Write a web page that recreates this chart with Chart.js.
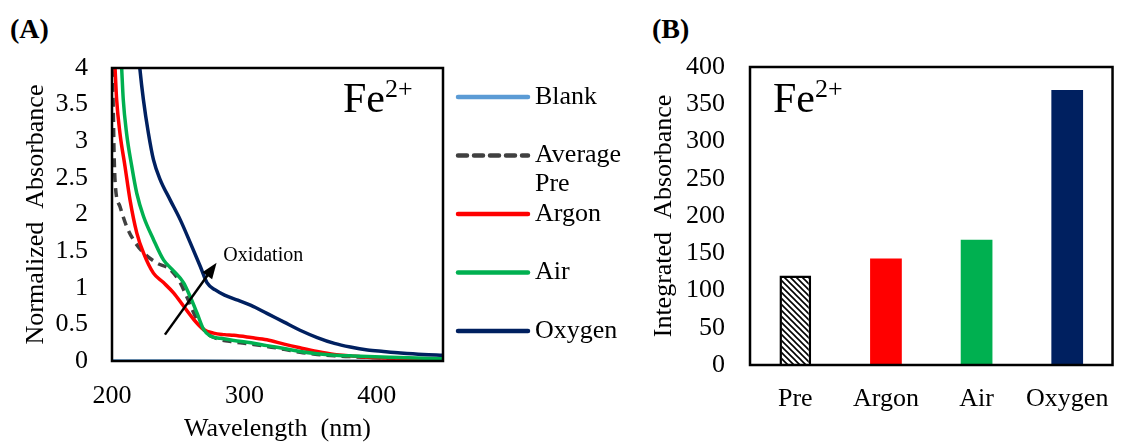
<!DOCTYPE html>
<html>
<head>
<meta charset="utf-8">
<script src="https://cdn.jsdelivr.net/npm/chart.js@4.4.0/dist/chart.umd.min.js"></script>
<style>
body { margin: 0; background: #fff; width: 1129px; height: 445px; overflow: hidden; position: relative; font-family: 'Liberation Serif', 'Times New Roman', serif; }
#chartA { position: absolute; left: 0; top: 0; }
#chartB { position: absolute; left: 645px; top: 0; }
.panel { position: absolute; top: 13px; font-weight: bold; font-size: 28px; line-height: normal; }
</style>
</head>
<body>
<div class="panel" style="left:10px">(A)</div>
<div class="panel" style="left:652px">(B)</div>
<canvas id="chartA" width="645" height="445"></canvas>
<canvas id="chartB" width="484" height="445"></canvas>
<script>
///// SPECTRA + INTEGRATED ABSORBANCE /////

Chart.defaults.font.family = "'Liberation Serif', 'Times New Roman', serif";
Chart.defaults.font.size = 26;
Chart.defaults.color = '#000';

// Spectra (wavelength in nm, normalized absorbance)
const blankX = [200, 250, 300, 350, 400, 450];
const blankY = [0.01, 0.01, 0.005, 0.005, 0.005, 0.005];

const avgPreX = [200, 200.5, 201, 201.5, 202.5, 206, 211, 216, 223.7, 233.7, 243.9, 251.5, 256.4, 264.1, 271.7, 280, 292, 305, 317, 330, 342, 355, 368, 380, 393, 410, 430, 450];
const avgPreY = [4.0, 3.8, 3.4, 2.88, 2.4, 2.11, 1.84, 1.66, 1.48, 1.34, 1.25, 1.07, 0.88, 0.57, 0.38, 0.3, 0.26, 0.23, 0.2, 0.16, 0.12, 0.09, 0.07, 0.06, 0.05, 0.04, 0.03, 0.02];

const argonX = [201.5, 202.3, 203.5, 206, 209.8, 213.6, 218.7, 223.7, 231.3, 238.9, 246.5, 254, 261.6, 269.2, 276.7, 285, 292, 305, 317, 330, 342, 355, 368, 380, 393, 410, 430, 450];
const argonY = [4.3, 4.0, 3.57, 3.11, 2.66, 2.2, 1.75, 1.48, 1.2, 1.07, 0.93, 0.75, 0.57, 0.43, 0.38, 0.36, 0.35, 0.32, 0.29, 0.23, 0.18, 0.13, 0.09, 0.07, 0.05, 0.04, 0.03, 0.02];

const airX = [206.5, 207.3, 208.5, 211, 214.9, 218.7, 223.7, 231.3, 238.9, 246.5, 254, 259, 264.1, 269.2, 274.2, 282, 292, 305, 317, 330, 342, 355, 368, 380, 393, 410, 430, 450];
const airY = [4.3, 4.0, 3.57, 3.11, 2.66, 2.29, 1.98, 1.66, 1.38, 1.23, 1.07, 0.88, 0.66, 0.43, 0.34, 0.31, 0.28, 0.25, 0.21, 0.17, 0.13, 0.1, 0.08, 0.07, 0.06, 0.05, 0.04, 0.03];

const oxygenX = [219.5, 221, 223.7, 227.5, 231.3, 236.3, 243.9, 251.5, 259, 266.7, 271.7, 278, 285, 295, 305, 317, 330, 342, 355, 368, 380, 393, 405, 418, 435, 450];
const oxygenY = [4.3, 4.0, 3.57, 3.11, 2.75, 2.48, 2.2, 1.93, 1.62, 1.29, 1.07, 0.97, 0.9, 0.83, 0.76, 0.65, 0.53, 0.42, 0.32, 0.24, 0.19, 0.15, 0.13, 0.11, 0.09, 0.08];

// Oxidation arrow, in data units
const arrowFrom = { x: 240, y: 0.36 };
const arrowTo = { x: 279, y: 1.34 };
const arrowLabel = { x: 284, y: 1.37, text: 'Oxidation' };

// Integrated absorbance bars
const barLabels = ['Pre', 'Argon', 'Air', 'Oxygen'];
const barValues = [120, 143, 168, 369];

function pts(xs, ys) {
    return xs.map((x, i) => ({ x: x, y: ys[i] }));
}

function drawFe(ctx, x, y) {
    ctx.save();
    ctx.fillStyle = '#000';
    ctx.textBaseline = 'alphabetic';
    ctx.textAlign = 'left';
    ctx.font = "42px 'Liberation Serif'";
    ctx.fillText('Fe', x, y);
    const w = ctx.measureText('Fe').width;
    ctx.font = "26px 'Liberation Serif'";
    ctx.fillText('2+', x + w, y - 15);
    ctx.restore();
}

// box round the plot area + Fe label
const frame = {
    id: 'frame',
    afterDatasetsDraw(chart, args, opts) {
        const { ctx, chartArea: a } = chart;
        ctx.save();
        ctx.strokeStyle = '#000';
        ctx.lineWidth = 2.5;
        ctx.strokeRect(a.left, a.top, a.right - a.left, a.bottom - a.top);
        ctx.restore();
        if (opts.fe === 'right') drawFe(ctx, a.right - 100, a.top + 44);
        if (opts.fe === 'left') drawFe(ctx, a.left + 23, a.top + 45);
    }
};

// arrow + legend for the spectra
const extras = {
    id: 'extras',
    afterDraw(chart) {
        const { ctx, chartArea: a, scales } = chart;
        const x0 = scales.x.getPixelForValue(arrowFrom.x), y0 = scales.y.getPixelForValue(arrowFrom.y);
        const x1 = scales.x.getPixelForValue(arrowTo.x), y1 = scales.y.getPixelForValue(arrowTo.y);
        const ang = Math.atan2(y1 - y0, x1 - x0);
        ctx.save();
        ctx.strokeStyle = '#000';
        ctx.fillStyle = '#000';
        ctx.lineWidth = 2.5;
        ctx.beginPath();
        ctx.moveTo(x0, y0);
        ctx.lineTo(x1 - 12 * Math.cos(ang), y1 - 12 * Math.sin(ang));
        ctx.stroke();
        ctx.beginPath();
        ctx.moveTo(x1, y1);
        ctx.lineTo(x1 - 16 * Math.cos(ang) + 6 * Math.sin(ang), y1 - 16 * Math.sin(ang) - 6 * Math.cos(ang));
        ctx.lineTo(x1 - 16 * Math.cos(ang) - 6 * Math.sin(ang), y1 - 16 * Math.sin(ang) + 6 * Math.cos(ang));
        ctx.closePath();
        ctx.fill();
        ctx.font = "20px 'Liberation Serif'";
        ctx.textBaseline = 'alphabetic';
        ctx.fillText(arrowLabel.text, scales.x.getPixelForValue(arrowLabel.x), scales.y.getPixelForValue(arrowLabel.y));

        // legend
        const lx = a.right + 15;
        ctx.font = "26px 'Liberation Serif'";
        ctx.textBaseline = 'middle';
        chart.data.datasets.forEach((ds, i) => {
            const ly = a.top + 29 + i * 58.5;
            ctx.beginPath();
            ctx.strokeStyle = ds.borderColor;
            ctx.lineWidth = 4.5;
            ctx.lineCap = 'round';
            ctx.setLineDash(ds.borderDash ? [9, 7] : []);
            ctx.moveTo(lx, ly);
            ctx.lineTo(lx + 70, ly);
            ctx.stroke();
            ctx.setLineDash([]);
            ctx.fillStyle = '#000';
            const lines = Array.isArray(ds.label) ? ds.label : [ds.label];
            lines.forEach((t, j) => ctx.fillText(t, lx + 77, ly + j * 29));
        });
        ctx.restore();
    }
};

const lineStyle = { borderWidth: 3.5, pointRadius: 0, cubicInterpolationMode: 'monotone', clip: 0 };
const plainNum = (v) => String(Number(v));

const chartA = new Chart(document.getElementById('chartA'), {
    type: 'line',
    data: {
        datasets: [
            { ...lineStyle, label: 'Blank', data: pts(blankX, blankY), borderColor: '#5B9BD5', borderWidth: 2, order: 5 },
            { ...lineStyle, label: ['Average', 'Pre'], data: pts(avgPreX, avgPreY), borderColor: '#404040', borderDash: [9, 6], order: 4 },
            { ...lineStyle, label: 'Argon', data: pts(argonX, argonY), borderColor: '#FF0000', order: 3 },
            { ...lineStyle, label: 'Air', data: pts(airX, airY), borderColor: '#00B050', order: 2 },
            { ...lineStyle, label: 'Oxygen', data: pts(oxygenX, oxygenY), borderColor: '#002060', order: 1 }
        ]
    },
    options: {
        responsive: false,
        animation: false,
        layout: { padding: { top: 68, right: 202, left: 0, bottom: 0 } },
        plugins: { legend: { display: false }, tooltip: { enabled: false }, frame: { fe: 'right' } },
        scales: {
            x: {
                type: 'linear', min: 200, max: 450,
                ticks: { stepSize: 100, includeBounds: false, padding: 20, maxRotation: 0, callback: plainNum },
                grid: { display: false, drawTicks: false },
                border: { display: false },
                title: { display: true, text: 'Wavelength  (nm)', padding: { top: 0, bottom: 0 } },
                afterFit: (s) => { s.height = 84; }
            },
            y: {
                min: 0, max: 4,
                ticks: { stepSize: 0.5, padding: 24, callback: plainNum },
                grid: { display: false, drawTicks: false },
                border: { display: false },
                title: { display: true, text: 'Normalized  Absorbance', padding: { top: 21, bottom: 0 } },
                afterFit: (s) => { s.width = 112; }
            }
        }
    },
    plugins: [frame, extras]
});

// hatched fill for the Pre bar
function hatch() {
    const c = document.createElement('canvas');
    c.width = 6; c.height = 6;
    const g = c.getContext('2d');
    g.fillStyle = '#fff';
    g.fillRect(0, 0, 6, 6);
    g.strokeStyle = '#000';
    g.lineWidth = 1.6;
    g.beginPath();
    g.moveTo(-1, -1); g.lineTo(7, 7);
    g.moveTo(-4, 2); g.lineTo(1, 7);
    g.moveTo(5, -1); g.lineTo(8, 2);
    g.stroke();
    return document.getElementById('chartB').getContext('2d').createPattern(c, 'repeat');
}

const chartB = new Chart(document.getElementById('chartB'), {
    type: 'bar',
    data: {
        labels: barLabels,
        datasets: [{
            data: barValues,
            backgroundColor: [hatch(), '#FF0000', '#00B050', '#002060'],
            borderColor: '#000',
            borderWidth: [2.5, 0, 0, 0],
            categoryPercentage: 1,
            barPercentage: 0.35
        }]
    },
    options: {
        responsive: false,
        animation: false,
        layout: { padding: { top: 67, right: 13, left: 0, bottom: 0 } },
        plugins: { legend: { display: false }, tooltip: { enabled: false }, frame: { fe: 'left' } },
        scales: {
            x: {
                ticks: { padding: 19, maxRotation: 0 },
                grid: { display: false, drawTicks: false },
                border: { display: false },
                afterFit: (s) => { s.height = 80; }
            },
            y: {
                min: 0, max: 400,
                ticks: { stepSize: 50, padding: 25 },
                grid: { display: false, drawTicks: false },
                border: { display: false },
                title: { display: true, text: 'Integrated  Absorbance', padding: { top: 4, bottom: 0 } },
                afterFit: (s) => { s.width = 105; }
            }
        }
    },
    plugins: [frame]
});
</script>
</body>
</html>
